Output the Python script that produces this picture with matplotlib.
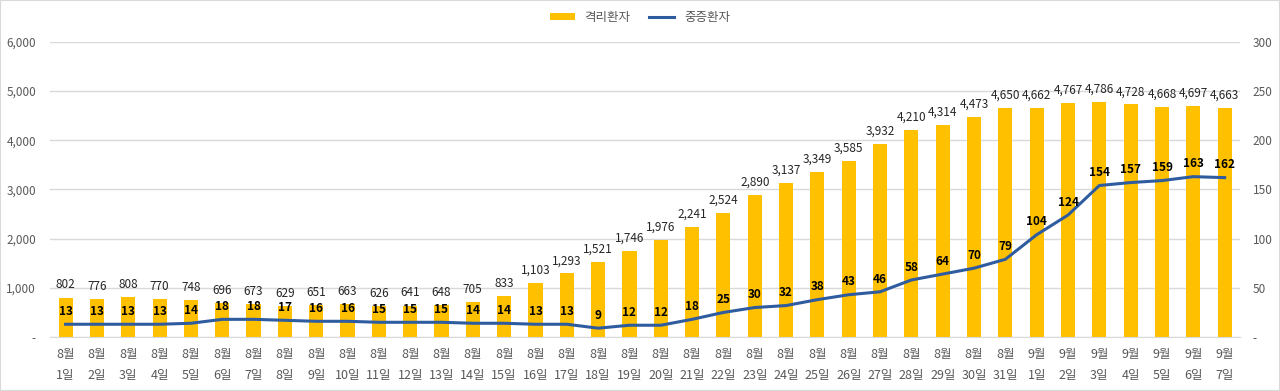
import matplotlib
matplotlib.use("Agg")
import matplotlib.pyplot as plt
from matplotlib.ticker import FuncFormatter, FixedLocator
import numpy as np

plt.rcParams['font.family'] = ['Noto Sans CJK KR', 'DejaVu Sans']

# data ----------------------------------------------------------------------
dates = [f"8월\n{d}일" for d in range(1, 32)] + [f"9월\n{d}일" for d in range(1, 8)]
isolated = [802, 776, 808, 770, 748, 696, 673, 629, 651, 663, 626, 641, 648,
            705, 833, 1103, 1293, 1521, 1746, 1976, 2241, 2524, 2890, 3137,
            3349, 3585, 3932, 4210, 4314, 4473, 4650, 4662, 4767, 4786, 4728,
            4668, 4697, 4663]
severe = [13, 13, 13, 13, 14, 18, 18, 17, 16, 16, 15, 15, 15, 14, 14, 13, 13,
          9, 12, 12, 18, 25, 30, 32, 38, 43, 46, 58, 64, 70, 79, 104, 124,
          154, 157, 159, 163, 162]

BAR = "#FFC000"
LINE = "#2F5C9F"
TICK = "#595959"
GRID = "#D9D9D9"

fig = plt.figure(figsize=(12.8, 3.91), dpi=100)
ax = fig.add_axes([0.039, 0.138, 0.930, 0.755])
ax2 = ax.twinx()

x = np.arange(len(dates))
bars = ax.bar(x, isolated, width=0.45, color=BAR, zorder=2, label="격리환자")
ax.set_xlim(-0.5, len(dates) - 0.5)
ax.set_ylim(0, 6000)
ax.yaxis.set_major_locator(FixedLocator(range(0, 6001, 1000)))
ax.yaxis.set_major_formatter(FuncFormatter(lambda v, p: "-" if v == 0 else f"{int(v):,}"))
ax.grid(axis="y", color=GRID, lw=1, zorder=0)
ax.set_axisbelow(True)

for xi, v in zip(x, isolated):
    ax.annotate(f"{v:,}", (xi, v), xytext=(0, 4.5), textcoords="offset points",
                ha="center", va="bottom", fontsize=8.5, color="#262626", zorder=5)

ln, = ax2.plot(x, severe, color=LINE, lw=2.2, zorder=3, label="중증환자")
ax2.set_ylim(0, 300)
ax2.yaxis.set_major_locator(FixedLocator(range(0, 301, 50)))
ax2.yaxis.set_major_formatter(FuncFormatter(lambda v, p: "-" if v == 0 else f"{int(v)}"))
for xi, v in zip(x, severe):
    ax2.annotate(f"{v}", (xi, v), xytext=(0, 4.5), textcoords="offset points",
                 ha="center", va="bottom", fontsize=8.5, fontweight="bold",
                 color="#000000", zorder=6)

ax.set_xticks(x)
ax.set_xticklabels(dates, fontsize=9, color=TICK, linespacing=1.8)
for a in (ax, ax2):
    for s in a.spines.values():
        s.set_visible(False)
    a.tick_params(length=0, labelsize=8.5, labelcolor=TICK)
ax.tick_params(axis="y", pad=10)
ax2.tick_params(axis="y", pad=9)
ax.tick_params(axis="x", pad=8, labelsize=9)
ax.spines["bottom"].set_visible(True)
ax.spines["bottom"].set_color(GRID)

fig.legend(handles=[bars, ln], labels=["격리환자", "중증환자"], loc="upper center",
           bbox_to_anchor=(0.5, 1.0), ncol=2, frameon=False, fontsize=9,
           handlelength=2.0, handleheight=0.5, columnspacing=1.5,
           labelcolor=TICK)

fig.patches.append(plt.Rectangle((0, 0), 1, 1, transform=fig.transFigure,
                                 fill=False, ec="#D9D9D9", lw=1.5))
fig.savefig("out.png", dpi=100, facecolor="white")
